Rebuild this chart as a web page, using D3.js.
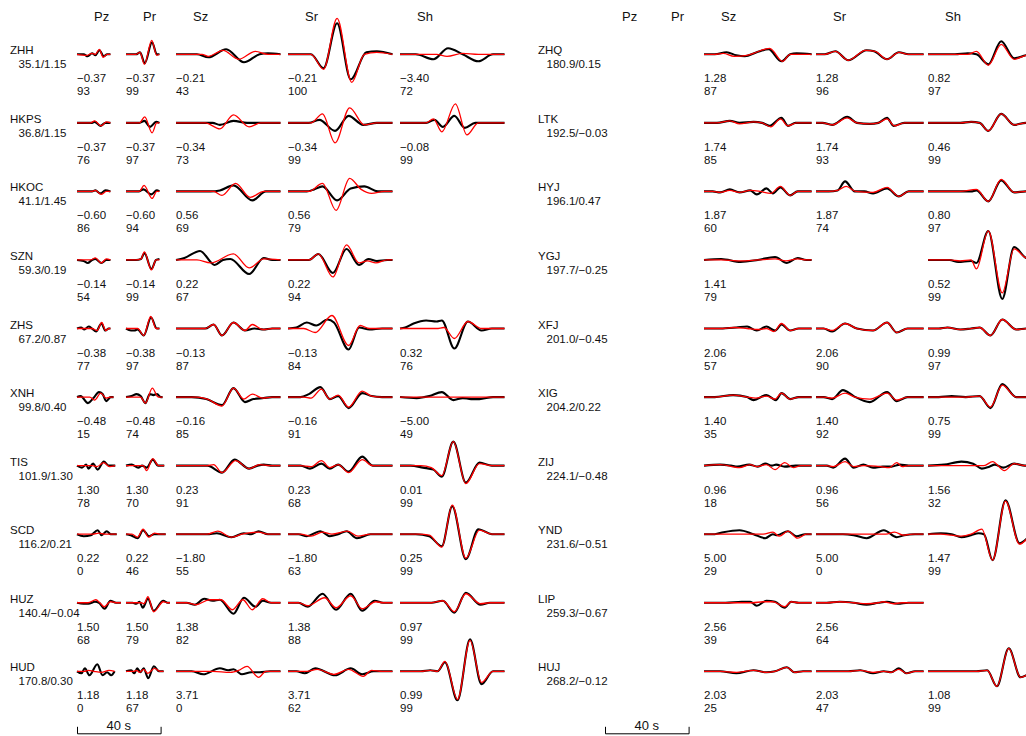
<!DOCTYPE html>
<html>
<head>
<meta charset="utf-8">
<script src="https://cdn.jsdelivr.net/npm/d3@7"></script>
<style>
  body { margin: 0; background: #fff; }
  text { font-family: "Liberation Sans", Arial, Helvetica, sans-serif; fill: #111; }
</style>
</head>
<body>
<div id="chart"></div>
<script>
// components / headers
const comps = ['Pz', 'Pr', 'Sz', 'Sr', 'Sh']

// stations, left panel
const namesL = ['ZHH', 'HKPS', 'HKOC', 'SZN', 'ZHS', 'XNH', 'TIS', 'SCD', 'HUZ', 'HUD']
const distL = ['35.1/1.15', '36.8/1.15', '41.1/1.45', '59.3/0.19', '67.2/0.87', '99.8/0.40', '101.9/1.30', '116.2/0.21', '140.4/\u22120.04', '170.8/0.30']
// P window length (s) for each station
const pDurL = [16, 16, 16, 16, 16, 17.5, 18.3, 19, 21, 18]

// stations, right panel
const namesR = ['ZHQ', 'LTK', 'HYJ', 'YGJ', 'XFJ', 'XIG', 'ZIJ', 'YND', 'LIP', 'HUJ']
const distR = ['180.9/0.15', '192.5/\u22120.03', '196.1/0.47', '197.7/\u22120.25', '201.0/\u22120.45', '204.2/0.22', '224.1/\u22120.48', '231.6/\u22120.51', '259.3/\u22120.67', '268.2/\u22120.12']

// time shift (s) per station / component
const shiftL = [
  [-0.37, -0.37, -0.21, -0.21, -3.40],
  [-0.37, -0.37, -0.34, -0.34, -0.08],
  [-0.60, -0.60, 0.56, 0.56, null],
  [-0.14, -0.14, 0.22, 0.22, null],
  [-0.38, -0.38, -0.13, -0.13, 0.32],
  [-0.48, -0.48, -0.16, -0.16, -5.00],
  [1.30, 1.30, 0.23, 0.23, 0.01],
  [0.22, 0.22, -1.80, -1.80, 0.25],
  [1.50, 1.50, 1.38, 1.38, 0.97],
  [1.18, 1.18, 3.71, 3.71, 0.99]
]
// cross-correlation (%)
const corrL = [
  [93, 99, 43, 100, 72],
  [76, 97, 73, 99, 99],
  [86, 94, 69, 79, null],
  [54, 99, 67, 94, null],
  [77, 97, 87, 84, 76],
  [15, 74, 85, 91, 49],
  [78, 70, 91, 68, 99],
  [0, 46, 55, 63, 99],
  [68, 79, 82, 88, 99],
  [0, 67, 0, 62, 99]
]
const shiftR = [
  [null, null, 1.28, 1.28, 0.82],
  [null, null, 1.74, 1.74, 0.46],
  [null, null, 1.87, 1.87, 0.80],
  [null, null, 1.41, null, 0.52],
  [null, null, 2.06, 2.06, 0.99],
  [null, null, 1.40, 1.40, 0.75],
  [null, null, 0.96, 0.96, 1.56],
  [null, null, 5.00, 5.00, 1.47],
  [null, null, 2.56, 2.56, null],
  [null, null, 2.03, 2.03, 1.08]
]
const corrR = [
  [null, null, 87, 96, 97],
  [null, null, 85, 93, 99],
  [null, null, 60, 74, 97],
  [null, null, 79, null, 99],
  [null, null, 57, 90, 97],
  [null, null, 35, 92, 99],
  [null, null, 18, 56, 32],
  [null, null, 29, 0, 99],
  [null, null, 39, 64, null],
  [null, null, 25, 47, 99]
]

// waveforms: [observed, synthetic], each a list of (time %, amplitude) pairs
const L_Pz = [
  [[0,0, 20,0, 32,-2, 45,1, 55,-1, 67,4, 80,-2, 90,0, 100,0], [0,0, 30,-1, 45,1, 55,0, 67,5, 78,-3, 90,0, 100,0]],
  [[0,0, 45,0, 53,1, 70,-3, 85,0, 100,0], [0,0, 40,0, 53,2, 72,-3, 88,1, 100,0]],
  [[0,0, 45,0, 55,1, 70,-2, 85,1, 100,0], [0,0, 45,0, 55,1, 72,-3, 88,0, 100,0]],
  [[0,0, 20,-1, 32,-3, 45,0, 55,1, 73,-3, 88,0, 100,0], [0,0, 25,0, 40,0, 55,2, 72,-3, 88,1, 100,0]],
  [[0,0, 12,1, 22,-1, 35,2, 45,0, 57,-3, 73,5, 85,-2, 95,0, 100,0], [0,0, 30,0, 45,0, 60,-2, 74,6, 86,-2, 95,0, 100,0]],
  [[0,0, 10,1, 30,-6, 45,-1, 60,5, 70,3, 80,-4, 92,0, 100,0], [0,0, 35,0, 48,-3, 65,4, 80,-1, 90,0, 100,0]],
  [[0,0, 13,-2, 24,1, 30,-3, 42,2, 54,-4, 70,4, 83,0, 100,0], [0,0, 40,0, 52,-1, 70,3, 85,-1, 100,0]],
  [[0,0, 17,-2, 35,-1, 52,4, 62,-1, 75,3, 85,0, 100,0], [0,0, 40,0, 55,1, 70,0, 100,0]],
  [[0,0, 15,-1, 26,-1, 41,1, 50,0, 63,-6, 76,2, 89,0, 100,0], [0,0, 25,0, 43,3, 52,0, 62,-4, 76,1, 89,0, 100,0]],
  [[0,0, 12,-2, 21,3, 33,-4, 54,7, 68,-4, 80,-1, 91,-4, 100,0], [0,0, 20,0, 30,1, 45,0, 65,-1, 85,1, 100,0]]
]
const L_Pr = [
  [[0,0, 30,0, 42,2, 56,-9, 78,12, 92,0, 100,0], [0,0, 30,0, 42,2, 55,-10, 77,14, 92,-1, 100,0]],
  [[0,0, 40,0, 55,2, 72,-4, 90,1, 100,0], [0,0, 40,0, 56,6, 78,-10, 92,0, 100,0]],
  [[0,0, 38,0, 52,2, 76,-3, 92,1, 100,0], [0,0, 40,0, 54,6, 78,-7, 92,0, 100,0]],
  [[0,0, 30,0, 45,1, 55,7, 76,-9, 90,0, 100,1], [0,0, 30,0, 45,1, 55,8, 76,-10, 90,0, 100,0]],
  [[0,0, 15,-2, 25,-2, 35,-1, 53,-7, 75,11, 92,0, 100,0], [0,0, 20,0, 35,0, 53,-7, 74,12, 90,0, 100,0]],
  [[0,0, 15,1, 29,3, 40,1, 53,-6, 65,3, 75,2, 85,3, 95,0, 100,0], [0,0, 25,0, 40,0, 53,-6, 72,9, 88,0, 100,0]],
  [[0,0, 15,1, 32,-2, 42,0, 54,-2, 70,6, 84,0, 100,0], [0,0, 35,0, 45,0, 54,-5, 70,7, 85,0, 100,0]],
  [[0,0, 12,-1, 29,-4, 43,4, 58,-2, 71,0, 85,0, 100,0], [0,0, 15,0, 29,-3, 43,5, 57,-3, 72,1, 85,0, 100,0]],
  [[0,0, 15,0, 23,-1, 31,1, 38,-5, 50,4, 63,-8, 85,2, 95,0, 100,0], [0,0, 20,0, 35,0, 41,-1, 50,6, 63,-9, 85,1, 95,0, 100,0]],
  [[0,0, 14,1, 22,-2, 30,3, 38,-1, 47,3, 59,-7, 74,5, 88,0, 100,0], [0,0, 20,0, 28,1, 36,-1, 47,2, 58,-2, 76,3, 90,0, 100,0]]
]
const L_Sz = [
  [[0,0, 20,0, 31,-3, 48,5, 65,-8, 80,0, 88,1, 100,0], [0,0, 25,0, 31,-2, 45,4, 60,-5, 76,3, 88,0, 100,0]],
  [[0,0, 35,0, 42,-2, 55,2, 68,0, 100,0], [0,0, 28,0, 42,-6, 55,8, 70,-4, 81,0, 100,0]],
  [[0,0, 33,0, 42,1, 55,6, 73,-9, 86,0, 100,0], [0,0, 36,0, 44,-4, 57,8, 71,-6, 84,0, 100,0]],
  [[0,0, 8,2, 23,9, 37,-5, 45,0, 52,1, 70,-14, 84,2, 92,0, 100,0], [0,0, 20,0, 33,-3, 55,6, 70,-8, 84,1, 100,0]],
  [[0,0, 28,0, 36,4, 44,-7, 55,6, 66,-2, 75,0, 84,-1, 92,0, 100,0], [0,0, 28,0, 36,4, 44,-7, 55,6, 66,-2, 73,4, 83,-1, 92,0, 100,0]],
  [[0,0, 15,0, 29,-2, 44,-8, 55,9, 66,-5, 74,-2, 84,-1, 92,0, 100,0], [0,0, 20,0, 30,-2, 44,-9, 55,9, 65,-2, 73,3, 83,-1, 92,0, 100,0]],
  [[0,0, 30,0, 44,-7, 56,6, 70,-3, 78,0, 84,1, 92,0, 100,0], [0,0, 30,0, 36,1, 44,-7, 57,5, 70,-3, 80,1, 90,0, 100,0]],
  [[0,0, 30,0, 39,1, 53,-3, 65,1, 72,0, 79,3, 88,0, 100,0], [0,0, 30,0, 40,3, 53,-3, 63,0, 79,2, 88,0, 100,0]],
  [[0,0, 10,0, 18,-2, 27,4, 35,2, 42,3, 55,-11, 65,5, 76,-4, 83,2, 91,0, 100,0], [0,0, 10,0, 19,-2, 32,3, 43,3, 54,-7, 64,3, 73,-7, 83,4, 91,0, 100,0]],
  [[0,0, 15,0, 26,-3, 42,3, 50,1, 55,2, 63,-3, 72,-1, 80,-1, 90,0, 100,0], [0,0, 35,0, 52,-1, 60,1, 68,5, 79,-6, 86,0, 100,0]]
]
const L_Sr = [
  [[0,0, 22,0, 34,-14, 47,31, 60,-25, 75,2, 85,3, 100,0], [0,0, 22,0, 34,-15, 47,36, 61,-28, 73,0, 85,2, 100,0]],
  [[0,0, 20,0, 30,3, 45,-8, 58,7, 72,-2, 85,0, 100,0], [0,0, 22,0, 33,9, 45,-20, 59,15, 73,-2, 85,0, 100,0]],
  [[0,0, 18,0, 25,2, 33,5, 47,-9, 60,3, 73,5, 86,0, 100,0], [0,0, 20,0, 33,8, 46,-19, 59,13, 70,2, 80,-2, 92,0, 100,0]],
  [[0,0, 20,0, 29,6, 43,-13, 56,11, 68,-5, 77,1, 85,-1, 95,0, 100,0], [0,0, 20,0, 29,6, 43,-17, 56,15, 68,-3, 76,-1, 84,-3, 95,0, 100,0]],
  [[0,0, 8,1, 18,6, 27,3, 38,9, 44,6, 58,-21, 68,1, 78,-1, 90,0, 100,0], [0,0, 15,0, 26,-4, 42,13, 58,-17, 69,3, 78,0, 100,0]],
  [[0,0, 12,0, 20,3, 31,10, 40,-2, 48,1, 58,-11, 71,4, 80,1, 90,0, 100,0], [0,0, 15,0, 22,-1, 32,8, 40,-2, 48,2, 58,-10, 71,6, 80,1, 90,0, 100,0]],
  [[0,0, 12,0, 21,-3, 32,2, 40,-3, 48,1, 58,-6, 71,9, 81,0, 100,0], [0,0, 12,0, 22,-1, 32,5, 40,-2, 48,1, 58,-7, 71,6, 81,0, 100,0]],
  [[0,0, 10,0, 18,-2, 31,3, 40,-2, 48,0, 56,3, 66,-4, 79,0, 100,0], [0,0, 12,0, 22,-2, 33,2, 42,0, 57,3, 67,-2, 79,0, 100,0]],
  [[0,0, 10,0, 19,-4, 33,9, 46,-7, 60,9, 71,-8, 83,2, 91,0, 100,0], [0,0, 10,0, 19,-3, 35,5, 46,-5, 60,7, 71,-6, 84,1, 91,0, 100,0]],
  [[0,0, 8,0, 16,-2, 26,3, 45,-4, 60,3, 71,-3, 82,0, 100,0], [0,0, 10,0, 18,0, 28,2, 44,-3, 58,2, 72,-5, 80,1, 90,0, 100,0]]
]
const L_Sh = [
  [[0,0, 15,0, 32,-5, 46,6, 60,0, 75,-7, 89,0, 100,0], [0,0, 35,0, 45,-2, 60,1, 75,0, 100,0]],
  [[0,0, 25,0, 33,3, 41,-4, 52,7, 62,-5, 72,0, 100,0], [0,0, 25,0, 32,4, 40,-9, 53,19, 64,-12, 75,0, 100,0]],
  null,
  null,
  [[0,0, 5,1, 13,5, 25,8, 35,7, 40,8, 52,-20, 65,7, 78,-2, 88,0, 100,0], [0,0, 35,0, 42,1, 52,-10, 65,7, 78,0, 100,0]],
  [[0,0, 16,-1, 28,1, 40,5, 51,-3, 60,-1, 68,-2, 76,-2, 89,0, 100,0], [0,0, 100,0]],
  [[0,0, 10,0, 22,-2, 32,-4, 40,-11, 51,24, 63,-17, 76,3, 88,0, 100,0], [0,0, 20,0, 30,-2, 40,-10, 51,24, 63,-18, 76,2, 88,0, 100,0]],
  [[0,0, 15,0, 28,-2, 40,-12, 50,28, 63,-25, 75,5, 88,0, 100,0], [0,0, 18,0, 28,-1, 40,-13, 50,29, 63,-24, 76,4, 88,0, 100,0]],
  [[0,0, 30,0, 41,2, 52,-10, 63,10, 77,-2, 86,0, 100,0], [0,0, 30,0, 41,2, 52,-9, 63,9, 77,-1, 86,0, 100,0]],
  [[0,0, 20,0, 29,1, 36,0, 43,9, 55,-29, 67,32, 78,-13, 89,0, 100,0], [0,0, 20,0, 29,1, 36,0, 43,10, 55,-28, 67,31, 78,-11, 89,0, 100,0]]
]

const R_Sz = [
  [[0,0, 10,0, 21,2, 30,-1, 38,-2, 49,2, 60,5, 72,-7, 80,0, 86,1, 100,0], [0,0, 10,0, 18,1, 28,-2, 40,-1, 46,1, 61,6, 73,-7, 80,0, 86,0, 100,0]],
  [[0,0, 12,0, 24,2, 33,0, 46,1, 54,0, 61,-3, 72,5, 78,-3, 85,0, 100,0], [0,0, 12,0, 24,2, 33,-1, 46,1, 54,0, 62,-4, 71,4, 78,-3, 86,0, 100,0]],
  [[0,0, 8,0, 15,-1, 24,2, 33,-1, 43,1, 49,-3, 58,3, 64,-2, 71,4, 80,-4, 87,0, 100,0], [0,0, 8,0, 15,-1, 24,1, 33,-1, 43,1, 52,0, 62,-2, 71,5, 80,-4, 87,0, 100,0]],
  [[0,0, 16,1, 34,-2, 50,0, 66,3, 77,-3, 87,2, 95,0, 100,0], [0,0, 16,0, 34,-1, 50,0, 66,1, 76,-1, 87,1, 95,0, 100,0]],
  [[0,0, 15,0, 30,1, 40,2, 49,-2, 58,2, 66,-2, 72,4, 80,-2, 88,0, 100,0], [0,0, 15,0, 28,1, 40,0, 50,-1, 58,0, 65,-3, 72,5, 80,-2, 88,0, 100,0]],
  [[0,0, 10,0, 27,2, 40,0, 46,-3, 58,2, 67,-3, 72,4, 80,-2, 88,0, 100,0], [0,0, 10,0, 27,2, 40,0, 48,-1, 58,1, 66,-2, 72,4, 80,-2, 88,0, 100,0]],
  [[0,0, 15,1, 25,0, 31,-1, 42,1, 50,-1, 57,2, 63,0, 67,1, 75,-1, 85,0, 100,0], [0,0, 15,1, 33,-2, 43,1, 49,-1, 58,1, 66,-4, 75,3, 83,-2, 90,0, 100,0]],
  [[0,0, 10,0, 18,2, 33,4, 46,0, 57,-4, 64,0, 68,-1, 78,3, 86,-2, 94,0, 100,0], [0,0, 40,0, 55,0, 64,2, 70,-2, 78,3, 87,-4, 95,0, 100,0]],
  [[0,0, 20,0, 35,1, 43,1, 49,-3, 58,2, 66,1, 75,-5, 81,1, 88,0, 100,0], [0,0, 30,0, 45,0, 55,1, 64,1, 75,-4, 81,1, 88,0, 100,0]],
  [[0,0, 15,0, 30,-2, 46,1, 58,-1, 66,0, 77,4, 84,-1, 92,0, 100,0], [0,0, 15,0, 30,-1, 46,1, 58,-1, 66,0, 77,4, 84,-1, 92,0, 100,0]]
]
const R_Sr = [
  [[0,0, 8,0, 18,3, 30,-6, 47,4, 54,3, 66,-5, 77,2, 86,0, 100,0], [0,0, 8,0, 18,3, 30,-6, 46,4, 55,3, 66,-5, 77,2, 86,0, 100,0]],
  [[0,0, 6,0, 15,-2, 29,6, 38,0, 50,-1, 58,0, 66,5, 72,-3, 82,0, 100,0], [0,0, 6,0, 15,-2, 29,5, 38,0, 50,-1, 58,0, 66,4, 73,-3, 82,0, 100,0]],
  [[0,0, 12,0, 20,1, 27,10, 36,0, 45,0, 53,-2, 66,3, 77,-5, 86,0, 100,0], [0,0, 12,0, 20,1, 28,5, 37,0, 53,-1, 66,4, 77,-5, 86,0, 100,0]],
  null,
  [[0,0, 7,0, 15,-3, 27,5, 38,0, 53,-2, 66,6, 75,-4, 85,0, 100,0], [0,0, 7,0, 15,-2, 27,5, 38,0, 53,-2, 66,6, 75,-4, 85,0, 100,0]],
  [[0,0, 7,0, 15,-2, 25,7, 35,1, 50,-5, 66,5, 75,-4, 85,0, 100,0], [0,0, 7,0, 15,-1, 27,4, 36,0, 50,-2, 66,4, 75,-3, 85,0, 100,0]],
  [[0,0, 10,0, 16,-2, 27,7, 35,-2, 44,1, 53,-2, 62,-1, 70,-1, 78,1, 86,0, 100,0], [0,0, 10,0, 16,-1, 27,4, 35,-1, 44,0, 60,-1, 68,-2, 75,3, 80,-1, 86,0, 100,0]],
  [[0,0, 25,0, 35,-1, 47,-4, 63,4, 75,-3, 82,-1, 92,0, 100,0], [0,0, 50,0, 65,0, 73,2, 81,-1, 90,0, 100,0]],
  [[0,0, 10,0, 22,1, 35,0, 47,-2, 58,0, 66,1, 76,-1, 86,0, 100,0], [0,0, 10,0, 22,1, 35,0, 47,-1, 58,0, 62,1, 72,-1, 80,0, 100,0]],
  [[0,0, 20,0, 30,0, 41,1, 53,-2, 63,0, 70,-1, 77,3, 84,-2, 92,0, 100,0], [0,0, 20,0, 30,0, 41,1, 53,-1, 63,0, 70,-1, 77,2, 84,-2, 92,0, 100,0]]
]
const R_Sh = [
  [[0,0, 25,0, 37,1, 45,0, 56,-10, 68,13, 80,-4, 91,-1, 100,0], [0,0, 25,0, 37,0, 45,3, 56,-11, 68,10, 80,-5, 91,-1, 100,0]],
  [[0,0, 30,0, 40,1, 48,0, 56,-8, 68,9, 80,-2, 91,0, 100,0], [0,0, 30,0, 40,1, 48,0, 56,-8, 68,9, 80,-2, 91,0, 100,0]],
  [[0,0, 30,0, 40,0, 45,1, 56,-10, 68,11, 80,-1, 91,0, 100,0], [0,0, 30,0, 45,2, 56,-10, 68,12, 80,-1, 91,0, 100,0]],
  [[0,0, 20,0, 28,-2, 40,-1, 45,-3, 56,29, 69,-39, 80,13, 91,2, 100,0], [0,0, 20,0, 30,-1, 40,0, 45,-9, 56,29, 69,-33, 80,11, 91,2, 100,0]],
  [[0,0, 10,0, 18,1, 30,-1, 40,0, 48,1, 58,-7, 69,9, 82,-1, 92,0, 100,0], [0,0, 10,0, 18,1, 30,-1, 40,0, 48,1, 58,-7, 69,9, 82,-1, 92,0, 100,0]],
  [[0,0, 10,0, 22,1, 35,0, 48,1, 58,-11, 69,13, 82,0, 100,0], [0,0, 10,0, 22,0, 35,0, 48,1, 58,-10, 69,12, 82,0, 100,0]],
  [[0,0, 15,1, 31,4, 42,2, 50,-3, 57,-1, 62,1, 70,-2, 80,2, 90,0, 100,0], [0,0, 40,0, 52,0, 60,4, 71,-5, 80,2, 90,0, 100,0]],
  [[0,0, 12,1, 22,0, 31,-3, 40,-1, 47,1, 52,0, 60,-26, 72,34, 85,-9, 95,-2, 100,0], [0,0, 12,0, 22,-1, 31,-2, 40,0, 50,5, 60,-26, 72,33, 85,-10, 95,-2, 100,0]],
  null,
  [[0,0, 30,0, 45,0, 55,1, 64,-15, 75,23, 86,-6, 95,-2, 100,0], [0,0, 30,0, 45,0, 55,1, 64,-15, 75,23, 86,-6, 95,-2, 100,0]]
]
const emptyCol = d3.range(10).map(() => null)

// chart setting
const chart = { width: 1026, height: 736 }
const colX = [77, 126, 176, 288, 400]     // start of each component column
const secPx = 83.6 / 40                    // px per second (40 s bar)
const rowY = d3.scalePoint().domain(d3.range(10)).range([54.3, 671.3])

const panels = [
  { x0: 0, names: namesL, dist: distL, pDur: pDurL, sDur: 50,
    traces: [L_Pz, L_Pr, L_Sz, L_Sr, L_Sh], shift: shiftL, corr: corrL },
  { x0: 528, names: namesR, dist: distR, pDur: pDurL, sDur: 51.5,
    traces: [emptyCol, emptyCol, R_Sz, R_Sr, R_Sh], shift: shiftR, corr: corrR }
]

const fmtShift = d3.format('.2f')
const toPairs = arr => d3.range(0, arr.length, 2).map(i => [arr[i], arr[i + 1]])

const svg = d3.select('#chart')
  .append('svg')
    .attr('width', chart.width)
    .attr('height', chart.height)

panels.forEach(p => {
  const base = svg.append('g').attr('transform', `translate(${p.x0},0)`)

  // component headers
  base.selectAll('text.header')
    .data(comps)
    .join('text')
      .attr('class', 'header')
      .attr('x', (d, i) => colX[i] + 17)
      .attr('y', 21)
      .attr('font-size', '13px')
      .text(d => d)

  p.names.forEach((name, i) => {
    const y0 = rowY(i)
    const row = base.append('g')

    row.append('text')
      .attr('x', 10).attr('y', y0)
      .attr('font-size', '11.5px')
      .text(name)
    row.append('text')
      .attr('x', 18.5).attr('y', y0 + 14)
      .attr('font-size', '11.5px')
      .text(p.dist[i])

    comps.forEach((c, j) => {
      const tr = p.traces[j][i]
      if (!tr) return
      const dur = j < 2 ? p.pDur[i] : p.sDur
      const xs = d3.scaleLinear().domain([0, 100]).range([colX[j], colX[j] + dur * secPx])
      const ys = d3.scaleLinear().domain([-40, 40]).range([y0 + 40, y0 - 40])
      const line = d3.line()
        .x(d => xs(d[0]))
        .y(d => ys(d[1]))
        .curve(d3.curveMonotoneX)

      // observed (black) then synthetic (red)
      row.append('path')
        .attr('d', line(toPairs(tr[0])))
        .attr('fill', 'none')
        .attr('stroke', '#000')
        .attr('stroke-width', 2.1)
        .attr('stroke-linejoin', 'round')
      row.append('path')
        .attr('d', line(toPairs(tr[1])))
        .attr('fill', 'none')
        .attr('stroke', '#f00')
        .attr('stroke-width', 1.3)
        .attr('stroke-linejoin', 'round')

      row.append('text')
        .attr('x', colX[j]).attr('y', y0 + 28)
        .attr('font-size', '11.5px')
        .text(fmtShift(p.shift[i][j]))
      row.append('text')
        .attr('x', colX[j]).attr('y', y0 + 41)
        .attr('font-size', '11.5px')
        .text(p.corr[i][j])
    })
  })

  // 40 s scale bar
  const barScale = d3.scaleLinear().domain([0, 40]).range([0, 40 * secPx])
  const bar = base.append('g')
    .attr('transform', `translate(${colX[0]},733.3)`)
    .call(d3.axisTop(barScale).tickValues([]).tickSizeOuter(6.5))
  bar.select('.domain').attr('stroke', '#000').attr('stroke-width', 1)
  base.append('text')
    .attr('x', colX[0] + barScale(20))
    .attr('y', 730)
    .attr('text-anchor', 'middle')
    .attr('font-size', '13px')
    .text('40 s')
})
</script>
</body>
</html>
